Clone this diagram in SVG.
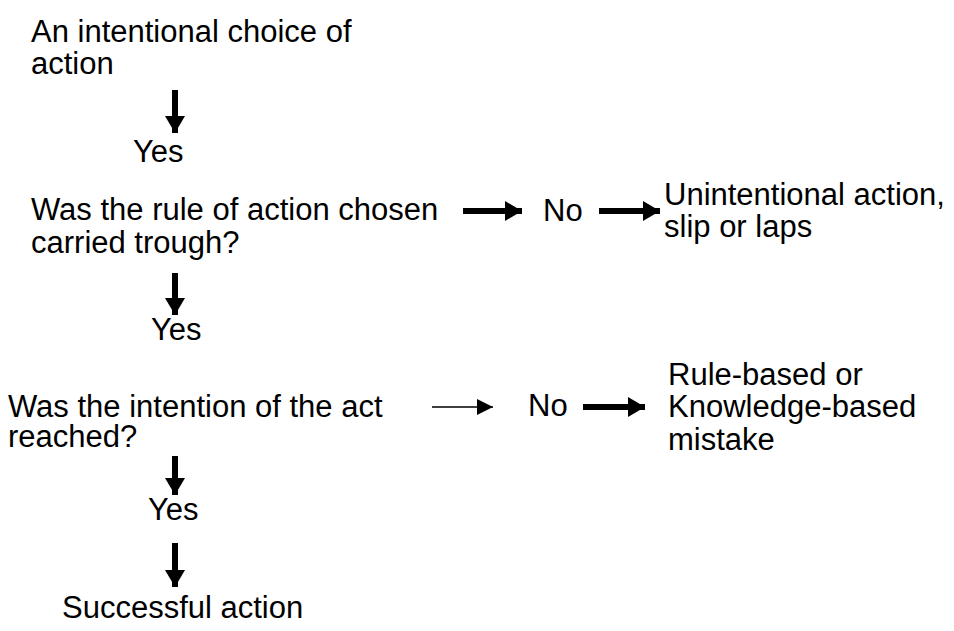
<svg xmlns="http://www.w3.org/2000/svg" width="954" height="631" viewBox="0 0 954 631">
<style>
text{font-family:"Liberation Sans",Arial,sans-serif;font-size:31px;fill:#000}
.thick{stroke:#000;stroke-width:6;fill:none}
.thin{stroke:#000;stroke-width:1.5;fill:none}
</style>
<defs>
<marker id="hd" markerUnits="userSpaceOnUse" markerWidth="18" markerHeight="20" refX="17" refY="10" orient="auto">
<path d="M0,0 L17,10 L0,20 Z" fill="#000"/>
</marker>
<marker id="hs" markerUnits="userSpaceOnUse" markerWidth="17" markerHeight="16" refX="16" refY="8" orient="auto">
<path d="M0,0 L16,8 L0,16 Z" fill="#000"/>
</marker>
</defs>
<rect width="954" height="631" fill="#fff"/>
<g id="start"><text x="31" y="42">An intentional choice of</text><text x="31" y="74">action</text></g>
<g id="yes1"><text x="133" y="162">Yes</text></g>
<g id="q1"><text x="31" y="220">Was the rule of action chosen</text><text x="31" y="253">carried trough?</text></g>
<g id="no1"><text x="543" y="221">No</text></g>
<g id="slip"><text x="664" y="205">Unintentional action,</text><text x="664" y="237">slip or laps</text></g>
<g id="yes2"><text x="151" y="340">Yes</text></g>
<g id="q2"><text x="8" y="417">Was the intention of the act</text><text x="8" y="447">reached?</text></g>
<g id="no2"><text x="528" y="416">No</text></g>
<g id="mistake"><text x="668" y="385">Rule-based or</text><text x="668" y="417">Knowledge-based</text><text x="668" y="450">mistake</text></g>
<g id="yes3"><text x="148" y="520">Yes</text></g>
<g id="success"><text x="62" y="618">Successful action</text></g>
<g id="connectors">
<line class="thick" x1="175" y1="90" x2="175" y2="133" marker-end="url(#hd)"/>
<line class="thick" x1="175" y1="273" x2="175" y2="315" marker-end="url(#hd)"/>
<line class="thick" x1="175" y1="456" x2="175" y2="495" marker-end="url(#hd)"/>
<line class="thick" x1="175" y1="543" x2="175" y2="587" marker-end="url(#hd)"/>
<line class="thick" x1="463" y1="211" x2="522" y2="211" marker-end="url(#hd)"/>
<line class="thick" x1="599" y1="211" x2="660" y2="211" marker-end="url(#hd)"/>
<line class="thin" x1="432" y1="407" x2="493" y2="407" marker-end="url(#hs)"/>
<line class="thick" x1="583" y1="407" x2="645" y2="407" marker-end="url(#hd)"/>
</g>
</svg>
